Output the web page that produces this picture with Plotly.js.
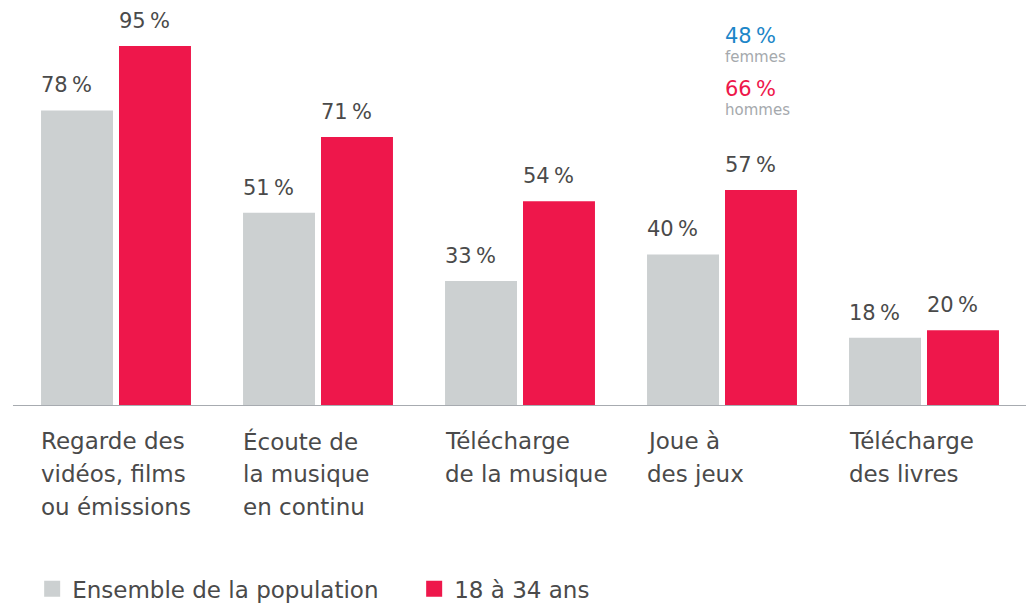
<!DOCTYPE html>
<html>
<head>
<meta charset="utf-8">
<script src="https://cdn.plot.ly/plotly-3.0.1.min.js"></script>
<style>html,body{margin:0;padding:0;background:#fff}#chart{width:1026px;height:603px}</style>
</head>
<body>
<div id="chart"></div>
<script>
const categories = ['Regarde des vidéos, films ou émissions', 'Écoute de la musique en continu', 'Télécharge de la musique', 'Joue à des jeux', 'Télécharge des livres'];
const categoryLines = [
  ['Regarde des', 'vidéos, films', 'ou émissions'],
  ['Écoute de', 'la musique', 'en continu'],
  ['Télécharge', 'de la musique'],
  ['Joue à', 'des jeux'],
  ['Télécharge', 'des livres']
];
const seriesNames = ['Ensemble de la population', '18 à 34 ans'];
const ensemble = [78, 51, 33, 40, 18];
const jeunes = [95, 71, 54, 57, 20];
const genderValues = [48, 66];
const genderLabels = ['femmes', 'hommes'];
const genderCategory = 'Joue à des jeux';

const FONT = '"DejaVu Sans", sans-serif';
const TXT = '#4a4a4a';
const GREY = '#ccd0d1';
const RED = '#ee174b';
const BLUE = '#1c86c8';
const SUB = '#a5a9ad';
const FS = 21;
const FS_CAT = 23;

const fmt = v => v + '\u2009%';

const traces = [
  {type: 'bar', name: seriesNames[0], x: categories, y: ensemble, marker: {color: GREY}, hoverinfo: 'none', showlegend: false},
  {type: 'bar', name: seriesNames[1], x: categories, y: jeunes, marker: {color: RED}, hoverinfo: 'none', showlegend: false},
  {type: 'scatter', mode: 'markers', name: seriesNames[0], x: [null], y: [null], marker: {symbol: 'square', size: 16, color: GREY}, hoverinfo: 'none'},
  {type: 'scatter', mode: 'markers', name: seriesNames[1], x: [null], y: [null], marker: {symbol: 'square', size: 16, color: RED}, hoverinfo: 'none'}
];

const annotations = [];
categories.forEach((c, i) => {
  annotations.push({x: c, y: ensemble[i], xref: 'x', yref: 'y', text: fmt(ensemble[i]), showarrow: false,
    xanchor: 'left', yanchor: 'middle', xshift: -77, yshift: 25, font: {family: FONT, size: FS, color: TXT}});
  annotations.push({x: c, y: jeunes[i], xref: 'x', yref: 'y', text: fmt(jeunes[i]), showarrow: false,
    xanchor: 'left', yanchor: 'middle', xshift: 1, yshift: 25, font: {family: FONT, size: FS, color: TXT}});
  categoryLines[i].forEach((line, j) => {
    annotations.push({x: c, y: 0, xref: 'x', yref: 'paper', text: line, showarrow: false,
      xanchor: 'left', yanchor: 'middle', xshift: -77, yshift: -35 - 33 * j, font: {family: FONT, size: FS_CAT, color: TXT}});
  });
});
// gender breakdown
const gy = [[97.6, 92.1], [83.6, 78.1]];
const gcol = [BLUE, RED];
genderValues.forEach((v, k) => {
  annotations.push({x: genderCategory, y: gy[k][0], xref: 'x', yref: 'y', text: fmt(v), showarrow: false,
    xanchor: 'left', yanchor: 'middle', xshift: 1, font: {family: FONT, size: FS, color: gcol[k]}});
  annotations.push({x: genderCategory, y: gy[k][1], xref: 'x', yref: 'y', text: genderLabels[k], showarrow: false,
    xanchor: 'left', yanchor: 'middle', xshift: 1, font: {family: FONT, size: 15, color: SUB}});
});

const layout = {
  width: 1026, height: 603,
  margin: {l: 15, r: 1, t: 27, b: 197, autoexpand: false},
  paper_bgcolor: '#fff', plot_bgcolor: '#fff',
  barmode: 'group', bargap: 0.228, bargroupgap: 0.077,
  font: {family: FONT, color: TXT},
  xaxis: {showticklabels: false, showgrid: false, zeroline: false, showline: false, ticks: ''},
  yaxis: {range: [0, 100], showticklabels: false, showgrid: false, zeroline: false, showline: false, ticks: ''},
  shapes: [{type: 'line', xref: 'paper', yref: 'y', x0: -0.002, x1: 1.001, y0: 0, y1: 0, line: {color: '#a7abb0', width: 2}}],
  showlegend: true,
  legend: {orientation: 'h', x: 0.017, xanchor: 'left', y: -0.482, yanchor: 'middle', entrywidth: 337,
    font: {family: FONT, size: FS_CAT, color: TXT}, traceorder: 'normal'},
  annotations: annotations
};

Plotly.newPlot('chart', traces, layout, {displayModeBar: false, staticPlot: true});
</script>
</body>
</html>
